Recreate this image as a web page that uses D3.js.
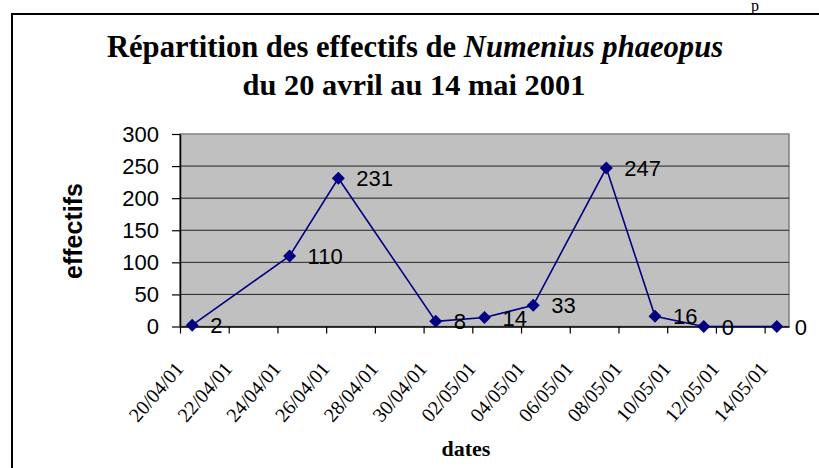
<!DOCTYPE html>
<html>
<head>
<meta charset="utf-8">
<script src="https://cdn.jsdelivr.net/npm/d3@7"></script>
<style>
  html, body { margin: 0; padding: 0; background: #fff; }
  svg { display: block; }
</style>
</head>
<body>
<script>
// data
var dates = ['20/04/01', '24/04/01', '26/04/01', '30/04/01', '02/05/01',
             '04/05/01', '07/05/01', '09/05/01', '11/05/01', '14/05/01'];
var effectifs = [2, 110, 231, 8, 14, 33, 247, 16, 0, 0];
var xTickLabels = ['20/04/01', '22/04/01', '24/04/01', '26/04/01', '28/04/01',
                   '30/04/01', '02/05/01', '04/05/01', '06/05/01', '08/05/01',
                   '10/05/01', '12/05/01', '14/05/01'];
var yTicks = [0, 50, 100, 150, 200, 250, 300];

var parse = d3.utcParse('%d/%m/%y');
var W = 819, H = 468;
var plot = {left: 180, right: 789, top: 134, bottom: 326.5};

var svg = d3.select('body').append('svg')
    .attr('width', W)
    .attr('height', H);

// outer frame (cut off on right / bottom like the original)
svg.append('rect')
    .attr('x', 12).attr('y', 14)
    .attr('width', 900).attr('height', 600)
    .attr('fill', 'none')
    .attr('stroke', '#000')
    .attr('stroke-width', 2);

// leftover letter of the text above the chart
svg.append('text')
    .attr('x', 751).attr('y', 11)
    .attr('font-family', 'Liberation Serif, Times New Roman, serif')
    .attr('font-size', 16)
    .text('p');

// title
var title = svg.append('text')
    .attr('x', 415).attr('y', 57)
    .attr('text-anchor', 'middle')
    .attr('font-family', 'Liberation Serif, Times New Roman, serif')
    .attr('font-weight', 'bold')
    .attr('font-size', 30.6);
title.append('tspan').text('Répartition des effectifs de ');
title.append('tspan').attr('font-style', 'italic').text('Numenius phaeopus');

svg.append('text')
    .attr('x', 414).attr('y', 95)
    .attr('text-anchor', 'middle')
    .attr('font-family', 'Liberation Serif, Times New Roman, serif')
    .attr('font-weight', 'bold')
    .attr('font-size', 30.4)
    .text('du 20 avril au 14 mai 2001');

// scales
var start = parse(xTickLabels[0]);
var end = d3.utcDay.offset(parse(xTickLabels[xTickLabels.length - 1]), 1);
var x = d3.scaleUtc().domain([start, end]).range([plot.left, plot.right]);
var y = d3.scaleLinear().domain([0, 300]).range([plot.bottom, plot.top]);

// data points sit in the middle of their day
function xMid(s) {
    return x(new Date(+parse(s) + 12 * 3600 * 1000));
}

// plot area
svg.append('rect')
    .attr('x', plot.left).attr('y', plot.top)
    .attr('width', plot.right - plot.left)
    .attr('height', plot.bottom - plot.top)
    .attr('fill', '#c0c0c0')
    .attr('stroke', '#808080')
    .attr('stroke-width', 1.5);

// gridlines
svg.selectAll('line.grid')
    .data(yTicks.filter(function(d){ return d > 0 && d < 300; }))
    .enter().append('line')
    .attr('class', 'grid')
    .attr('x1', plot.left).attr('x2', plot.right)
    .attr('y1', function(d){ return y(d); })
    .attr('y2', function(d){ return y(d); })
    .attr('stroke', '#222')
    .attr('stroke-width', 1);

// y axis
var yAxis = svg.append('g')
    .attr('transform', 'translate(' + plot.left + ',0)')
    .call(d3.axisLeft(y).tickValues(yTicks).tickSize(8).tickPadding(13).tickSizeOuter(0));
yAxis.select('.domain').attr('stroke', '#000').attr('stroke-width', 1.5);
yAxis.selectAll('.tick line').attr('stroke', '#000').attr('stroke-width', 1.2);
yAxis.selectAll('.tick text')
    .attr('font-family', 'Liberation Sans, Arial, sans-serif')
    .attr('font-size', 22)
    .attr('fill', '#000');

// x axis
var xTickDates = xTickLabels.map(parse);
var xAxis = svg.append('g')
    .attr('transform', 'translate(0,' + plot.bottom + ')')
    .call(d3.axisBottom(x).tickValues(xTickDates).tickSize(7).tickSizeOuter(0)
        .tickFormat(d3.utcFormat('%d/%m/%y')));
xAxis.select('.domain').attr('stroke', '#000').attr('stroke-width', 1.5);
xAxis.selectAll('.tick line').attr('stroke', '#000').attr('stroke-width', 1.2);
xAxis.selectAll('.tick text')
    .attr('font-family', 'Liberation Serif, Times New Roman, serif')
    .attr('font-size', 20)
    .attr('fill', '#000')
    .attr('text-anchor', 'end')
    .attr('dy', 0)
    .attr('y', 0)
    .attr('transform', 'translate(4,43) rotate(-49)');

// axis titles
svg.append('text')
    .attr('transform', 'translate(82,231) rotate(-90)')
    .attr('text-anchor', 'middle')
    .attr('font-family', 'Liberation Sans, Arial, sans-serif')
    .attr('font-weight', 'bold')
    .attr('font-size', 25)
    .text('effectifs');

svg.append('text')
    .attr('x', 466).attr('y', 456)
    .attr('text-anchor', 'middle')
    .attr('font-family', 'Liberation Serif, Times New Roman, serif')
    .attr('font-weight', 'bold')
    .attr('font-size', 22)
    .text('dates');

// line
var pts = dates.map(function(d, i){ return {date: d, v: effectifs[i]}; });
svg.append('path')
    .datum(pts)
    .attr('d', d3.line()
        .x(function(d){ return xMid(d.date); })
        .y(function(d){ return y(d.v); }))
    .attr('fill', 'none')
    .attr('stroke', '#000080')
    .attr('stroke-width', 1.6);

// diamond markers
svg.selectAll('path.marker')
    .data(pts)
    .enter().append('path')
    .attr('class', 'marker')
    .attr('d', 'M0,-6.5L6.5,0L0,6.5L-6.5,0Z')
    .attr('transform', function(d){
        return 'translate(' + xMid(d.date) + ',' + y(d.v) + ')';
    })
    .attr('fill', '#000080');

// value labels
svg.selectAll('text.val')
    .data(pts)
    .enter().append('text')
    .attr('class', 'val')
    .attr('x', function(d){ return xMid(d.date) + 18; })
    .attr('y', function(d){ return y(d.v) + 8; })
    .attr('font-family', 'Liberation Sans, Arial, sans-serif')
    .attr('font-size', 22)
    .attr('fill', '#000')
    .text(function(d){ return d.v; });
</script>
</body>
</html>
